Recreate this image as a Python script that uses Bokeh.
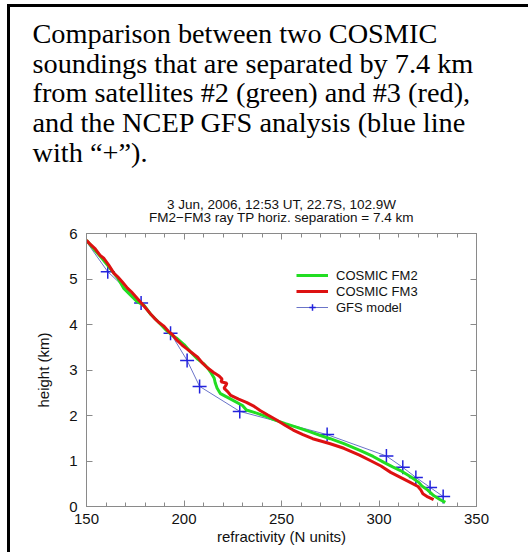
from bokeh.plotting import figure
from bokeh.models import Range1d, LinearAxis, Legend, LegendItem, FixedTicker
from bokeh.layouts import column
from bokeh.core.properties import value
from bokeh.embed import file_html
from bokeh.resources import INLINE

# ---------------- data ----------------
fm2_n = [150, 154, 158, 162, 166, 169, 173, 176, 179.5, 183, 187, 191, 194, 196.5,
         200, 203.3, 207, 210, 212, 214, 215.5, 216, 217, 218.7, 224, 230, 232, 236,
         242, 246, 252, 258, 264, 270, 275, 282, 290.5, 297, 302.5, 307, 311, 316,
         320.4, 322, 325, 328, 331, 334]
fm2_h = [5.85, 5.65, 5.45, 5.24, 5.02, 4.80, 4.63, 4.50, 4.42, 4.22, 4.05, 3.87, 3.76, 3.69,
         3.56, 3.40, 3.24, 3.14, 3.05, 2.93, 2.82, 2.72, 2.60, 2.48, 2.36, 2.22, 2.12, 2.07,
         1.98, 1.91, 1.82, 1.74, 1.65, 1.56, 1.49, 1.38, 1.23, 1.10, 0.97, 0.87, 0.79, 0.66,
         0.53, 0.45, 0.36, 0.24, 0.16, 0.09]

fm3_n = [150, 152, 154.5, 157, 159, 161.5, 164, 166, 168.5, 171, 173, 175.5, 178, 180,
         182.5, 185, 187, 189.5, 192, 194, 196.5, 199, 201, 204, 207, 209.5, 212, 215,
         218, 219.5, 219, 222, 221.5, 220.5, 222.5, 224, 228, 232, 236, 239, 243, 247.5,
         252, 256, 261, 266, 271, 275, 282, 290, 296, 301, 306, 311, 316, 320, 321.5,
         322.5, 325, 328]
fm3_h = [5.85, 5.76, 5.66, 5.52, 5.45, 5.30, 5.13, 5.05, 4.93, 4.80, 4.72, 4.60, 4.48, 4.38,
         4.25, 4.13, 4.05, 3.97, 3.85, 3.78, 3.65, 3.55, 3.48, 3.38, 3.28, 3.15, 3.05, 2.95,
         2.87, 2.80, 2.74, 2.71, 2.66, 2.60, 2.52, 2.44, 2.36, 2.29, 2.20, 2.11, 2.01, 1.90,
         1.78, 1.68, 1.58, 1.49, 1.43, 1.38, 1.28, 1.13, 1.00, 0.89, 0.75, 0.64, 0.53, 0.44,
         0.36, 0.28, 0.21, 0.15]

gfs_n = [144, 160.9, 178.0, 193.1, 201.6, 208.0, 228.6, 273.4, 303.8, 312.2, 318.9, 326.2, 332.9]
gfs_h = [6.18, 5.16, 4.47, 3.81, 3.21, 2.64, 2.09, 1.58, 1.11, 0.86, 0.64, 0.42, 0.22]

x_ticks = [150, 200, 250, 300, 350]
y_ticks = [0, 1, 2, 3, 4, 5, 6]

caption = ["Comparison between two COSMIC",
           "soundings that are separated by 7.4 km",
           "from satellites #2 (green) and #3 (red),",
           "and the NCEP GFS analysis (blue line",
           "with \u201c+\u201d)."]
titles = ["3 Jun, 2006, 12:53 UT, 22.7S, 102.9W",
          "FM2\u2212FM3 ray TP horiz. separation = 7.4 km"]
names = ["COSMIC FM2", "COSMIC FM3", "GFS model"]

# ---------------- layout constants (page pixels) ----------------
W, H = 531, 557
OX, OY = 10, 7            # content origin, just inside the black page border
SPLIT = 225               # page y where the chart figure starts
BOTTOM = 555              # page y where the chart figure ends
FL, FR, FT, FB = 86, 476, 233, 506   # chart frame edges (page pixels)
FONT = "Liberation Sans"
GREY = "#8a8a8a"
FW = W - OX               # figure width

# ---------------- caption figure (page-pixel coordinate system) ----------------
cap = figure(width=FW, height=SPLIT - OY, output_backend="svg", toolbar_location=None,
             x_range=Range1d(OX, W), y_range=Range1d(SPLIT, OY),
             min_border=0, x_axis_location=None, y_axis_location=None)
cap.frame_align = False
cap.grid.visible = False
cap.outline_line_color = None
cap.background_fill_color = "white"
cap.border_fill_color = "white"

cap_x = [32] * len(caption)
cap_y = [33, 62.7, 92.4, 122, 151.7]
cap.text(x=cap_x, y=cap_y, text=caption, text_font=value("Liberation Serif"),
         text_font_size=value("28.3px"), text_color="black",
         text_baseline="alphabetic", text_align="left")

tit_x = [281] * len(titles)
tit_y = [204.3, 216.7]
cap.text(x=tit_x, y=tit_y, text=titles, text_font=value(FONT),
         text_font_size=value("13.5px"), text_color="#111111",
         text_baseline="alphabetic", text_align="center")

# ---------------- chart figure ----------------
p = figure(width=FW, height=BOTTOM - SPLIT, output_backend="svg", toolbar_location=None,
           x_range=Range1d(150, 350), y_range=Range1d(0, 6),
           min_border_left=FL - OX, min_border_right=W - FR,
           min_border_top=FT - SPLIT, min_border_bottom=BOTTOM - FB,
           x_axis_location=None, y_axis_location=None)
p.frame_align = False
p.grid.visible = False
p.outline_line_color = GREY
p.outline_line_width = 1
p.background_fill_color = "white"
p.border_fill_color = "white"


def style_axis(ax, labels=True, minor=True):
    ax.axis_line_color = GREY
    ax.major_tick_line_color = GREY
    ax.minor_tick_line_color = GREY if minor else None
    ax.major_tick_in = 6
    ax.major_tick_out = 0
    ax.minor_tick_in = 4
    ax.minor_tick_out = 0
    ax.major_label_text_font = FONT
    ax.major_label_text_font_size = "15px"
    ax.major_label_text_color = "#111111"
    ax.axis_label_text_font = FONT
    ax.axis_label_text_font_size = "15px"
    ax.axis_label_text_font_style = "normal"
    ax.axis_label_text_color = "#111111"
    if not labels:
        ax.major_label_text_font_size = "1px"
        ax.major_label_text_color = None
        ax.major_label_standoff = 0


xt = FixedTicker(ticks=x_ticks, minor_ticks=list(range(150, 351, 10)))
yt = FixedTicker(ticks=y_ticks, minor_ticks=[])

xb = LinearAxis(ticker=xt, axis_label="refractivity (N units)")
style_axis(xb)
xb.major_label_standoff = 7
xb.axis_label_standoff = 1
p.add_layout(xb, "below")

xa = LinearAxis(ticker=xt)
style_axis(xa, labels=False)
p.add_layout(xa, "above")

yl = LinearAxis(ticker=yt, axis_label="height (km)")
style_axis(yl, minor=False)
yl.major_label_standoff = 9
yl.axis_label_standoff = 14
p.add_layout(yl, "left")

yr = LinearAxis(ticker=yt)
style_axis(yr, labels=False, minor=False)
p.add_layout(yr, "right")

g_gfs = p.line(gfs_n, gfs_h, line_color="#6a74c8", line_width=1)
g_gfs_m = p.scatter(gfs_n, gfs_h, marker="cross", size=14, line_color="#2222dd",
                    line_width=1.5)
g_fm2 = p.line(fm2_n, fm2_h, line_color="#22dd22", line_width=3)
g_fm3 = p.line(fm3_n, fm3_h, line_color="#dd1111", line_width=3)

legend = Legend(items=[LegendItem(label=names[0], renderers=[g_fm2]),
                       LegendItem(label=names[1], renderers=[g_fm3]),
                       LegendItem(label=names[2], renderers=[g_gfs, g_gfs_m])],
                location=(296 - FL, FB - 315))
legend.glyph_width = 32
legend.glyph_height = 16
legend.label_height = 16
legend.spacing = 0
legend.padding = 0
legend.margin = 0
legend.label_standoff = 8
legend.label_text_font = FONT
legend.label_text_font_size = "13px"
legend.label_text_color = "#111111"
legend.border_line_color = None
legend.background_fill_alpha = 0
p.add_layout(legend, "center")

# black page border on the top and left edges, drawn as a shadow so it takes no layout space
page = column(cap, p, spacing=0,
              styles={"margin-left": f"{OX}px", "margin-top": f"{OY}px",
                      "box-shadow": "-3px -3px 0 0 black", "overflow": "hidden"})

open("out.html", "w").write(file_html(page, INLINE))
